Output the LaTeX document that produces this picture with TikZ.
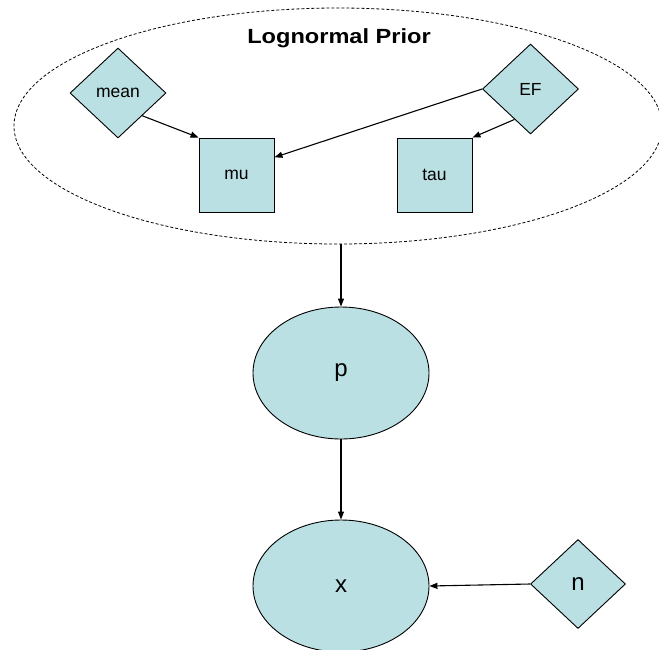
\documentclass[tikz,border=0pt]{standalone}
\usepackage{fontspec}
\setmainfont{Liberation Sans}
\usetikzlibrary{shapes.geometric,arrows.meta,calc}
\definecolor{nodefill}{HTML}{BBE0E3}
\begin{document}
\begin{tikzpicture}[x=1pt,y=-1pt,
  every node/.style={inner sep=0pt},
  shapeline/.style={draw=black, line width=0.9pt, fill=nodefill},
  diam/.style={shapeline, diamond, minimum width=96pt, minimum height=90pt},
  sq/.style={shapeline, rectangle, minimum width=75pt, minimum height=74pt},
  oval/.style={shapeline, ellipse, minimum width=176pt, minimum height=132pt},
  smalltext/.style={font=\fontsize{17.5}{21}\selectfont},
  bigtext/.style={font=\fontsize{24}{28}\selectfont},
  arr/.style={draw=black, line width=1.1pt, -{Triangle[length=8pt,width=6pt]}}
]
\useasboundingbox (0,0) rectangle (659,649);
\clip (0,0) rectangle (659,649);
% prior group
\node[draw=black, dashed, dash pattern=on 3pt off 2pt, line width=0.8pt, ellipse,
      minimum width=648pt, minimum height=236pt] (prior) at (338,126) {};
\node[anchor=base, font=\fontsize{20.5}{24}\selectfont\bfseries] (title) at (339,43.3)
      {\scalebox{1.15}[1]{Lognormal Prior}};
\node[diam, smalltext] (mean) at (118,93) {\raisebox{-1.5pt}{mean}};
\node[diam, smalltext] (EF) at (530.5,89) {EF};
\node[sq, smalltext] (mu) at (236.5,175) {\raisebox{-1.5pt}{mu}};
\node[sq, smalltext] (tau) at (434.5,175) {tau};
% lower nodes
\node[oval, bigtext] (p) at (341,373) {p};
\node[oval, bigtext] (x) at (341,586) {x};
\node[diam, bigtext, minimum width=95pt, minimum height=89pt] (n) at (578,584) {n};
% connectors
\coordinate (meanout) at ($(mean.east)!0.5!(mean.south)$);
\coordinate (efout) at ($(EF.south)!0.33!(EF.west)$);
\draw[arr] (meanout) -- (mu.north west);
\draw[arr] (EF.west) -- (mu.25);
\draw[arr] (efout) -- (tau.north east);
\draw[arr] (prior.south -| p.north) -- (p.north);
\draw[arr] (p.south) -- (x.north);
\draw[arr] (n.west) -- (x.east);
\end{tikzpicture}
\end{document}
